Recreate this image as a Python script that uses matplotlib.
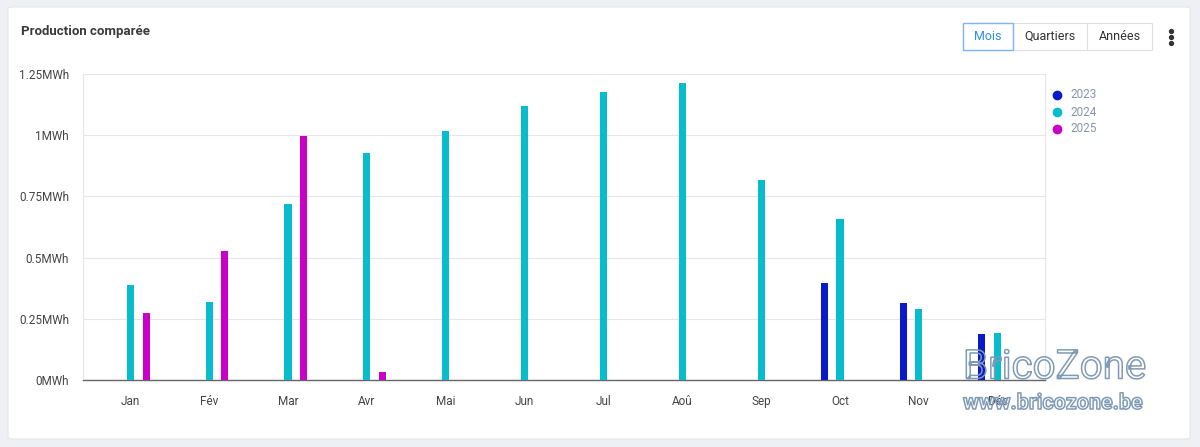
import numpy as np
import matplotlib.pyplot as plt
import matplotlib.patheffects as pe
from matplotlib.patches import FancyBboxPatch, Rectangle
from matplotlib.lines import Line2D

plt.rcParams['font.family'] = ['Roboto', 'DejaVu Sans']

# Données (MWh)
mois = ['Jan', 'Fév', 'Mar', 'Avr', 'Mai', 'Jun', 'Jul', 'Aoû', 'Sep', 'Oct', 'Nov', 'Déc']
annees = ['2023', '2024', '2025']
prod_2023 = [0, 0, 0, 0, 0, 0, 0, 0, 0, 0.396, 0.314, 0.188]
prod_2024 = [0.388, 0.318, 0.718, 0.927, 1.016, 1.118, 1.176, 1.212, 0.816, 0.657, 0.290, 0.192]
prod_2025 = [0.273, 0.527, 0.996, 0.033, 0, 0, 0, 0, 0, 0, 0, 0]
couleurs = ['#0a1ac8', '#06bccd', '#c800c8']
yticks = [0, 0.25, 0.5, 0.75, 1, 1.25]
ylabels = ['0MWh', '0.25MWh', '0.5MWh', '0.75MWh', '1MWh', '1.25MWh']

fig = plt.figure(figsize=(12, 4.47), dpi=100)
fig.patch.set_facecolor('#eef0f4')

# carte blanche (sous les axes)
card = FancyBboxPatch((8 / 1200, 8 / 447), 1182 / 1200, 432 / 447,
                      boxstyle='round,pad=0,rounding_size=0.004',
                      transform=fig.transFigure, facecolor='white',
                      edgecolor='#e3e6eb', linewidth=0.8, zorder=-10)
fig.patches.append(card)

ax = fig.add_axes([83 / 1200, 67 / 447, 962 / 1200, 306 / 447])
ax.set_facecolor('none')
ax.set_zorder(1)

x = np.arange(len(mois))
decal = 0.2
largeur = 0.09
for i, (serie, c) in enumerate(zip([prod_2023, prod_2024, prod_2025], couleurs)):
    vals = np.array(serie)
    m = vals > 0
    ax.bar(x[m] + (i - 1) * decal, vals[m], width=largeur, color=c, zorder=3)

ax.set_xlim(-0.6, 11.6)
ax.set_ylim(0, 1.25)
ax.set_yticks(yticks)
ax.set_yticklabels(ylabels)
ax.set_xticks(x)
ax.set_xticklabels(mois)
ax.tick_params(axis='both', length=0, labelsize=8.5, labelcolor='#444444')
ax.tick_params(axis='x', pad=11)
ax.tick_params(axis='y', pad=10)
ax.grid(axis='y', color='#e6e6e6', linewidth=0.8, zorder=0)
ax.spines['top'].set_visible(False)
ax.spines['left'].set_color('#e6e6e6')
ax.spines['right'].set_color('#e6e6e6')
ax.spines['bottom'].set_color('#666666')
ax.spines['bottom'].set_linewidth(1.0)

# titre
fig.text(21 / 1200, 1 - 31 / 447, 'Production comparée', fontsize=9.5,
         fontweight='bold', color='#3a3a3a', va='center')

# légende
for k, (a, c) in enumerate(zip(annees, couleurs)):
    yy = 1 - (95 + 17 * k) / 447
    fig.add_artist(Line2D([1057 / 1200], [yy], marker='o', markersize=6,
                          color=c, transform=fig.transFigure))
    fig.text(1070 / 1200, yy, a, fontsize=8.5, color='#8a94a6', va='center')

# boutons
boutons = [('Mois', 963, 1013), ('Quartiers', 1013, 1087), ('Années', 1087, 1152)]
for lab, x0, x1 in boutons:
    r = Rectangle((x0 / 1200, 1 - 50 / 447), (x1 - x0) / 1200, 27 / 447,
                  transform=fig.transFigure, facecolor='white',
                  edgecolor='#dcdfe4', linewidth=0.8)
    fig.patches.append(r)
    fig.text((x0 + x1) / 2 / 1200, 1 - 36.5 / 447, lab, fontsize=9,
             color='#2f8cf0' if lab == 'Mois' else '#333333', ha='center', va='center')
fig.patches.append(Rectangle((963 / 1200, 1 - 50 / 447), 50 / 1200, 27 / 447,
                             transform=fig.transFigure, facecolor='none',
                             edgecolor='#7fb5f5', linewidth=1.0))
for dy in (-6, 0, 6):
    fig.add_artist(Line2D([1171 / 1200], [1 - (37 + dy) / 447], marker='o',
                          markersize=2.8, color='#333333', transform=fig.transFigure))

# filigrane
contour = [pe.Stroke(linewidth=1.1, foreground='#7f9ab5')]
t1 = fig.text(963 / 1200, 1 - 367 / 447, 'BricoZone', fontsize=29, color=(1, 1, 1, 0),
              va='center', path_effects=contour)
t2 = fig.text(963 / 1200, 1 - 403 / 447, 'www.bricozone.be', fontsize=15.5,
              fontweight='bold', color=(1, 1, 1, 0), va='center', path_effects=contour)
t1.set_zorder(5)
t2.set_zorder(5)

fig.savefig('out.png', dpi=100, facecolor=fig.get_facecolor())
